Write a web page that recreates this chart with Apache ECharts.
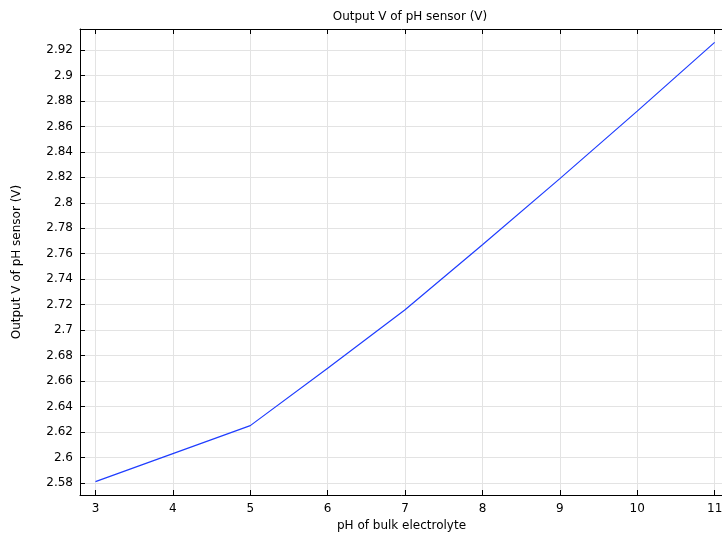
<!DOCTYPE html>
<html><head><meta charset="utf-8">
<script src="https://cdn.jsdelivr.net/npm/echarts@6/dist/echarts.min.js"></script>
<style>html,body{margin:0;padding:0;background:#fff}#c{width:722px;height:533px}</style>
</head><body><div id="c"></div>
<script>
var phValues = [3, 4, 5, 6, 7, 8, 9, 10, 11];
var voltage = [2.581, 2.603, 2.625, 2.670, 2.716, 2.767, 2.819, 2.872, 2.926];
var titleText = 'Output V of pH sensor (V)';
var xName = 'pH of bulk electrolyte';
var yName = 'Output V of pH sensor (V)';

var font = 'DejaVu Sans';
var chart = echarts.init(document.getElementById('c'));
var pts = phValues.map(function (x, i) { return [x, voltage[i]]; });
function isInt(v) { return Math.abs(v - Math.round(v)) < 1e-9; }
chart.setOption({
  animation: false,
  title: { text: titleText, left: 405, top: 6, textAlign: 'center',
    textStyle: { fontFamily: font, fontSize: 12, fontWeight: 'normal', color: '#000' } },
  grid: { left: 80, top: 29, width: 643, height: 466, containLabel: false, outerBoundsMode: 'none' },
  xAxis: [{
    type: 'value', min: 2.8, max: 11.108, splitNumber: 8, position: 'bottom',
    name: xName, nameLocation: 'middle', nameGap: 23,
    nameTextStyle: { fontFamily: font, fontSize: 12, color: '#000' },
    axisLine: { lineStyle: { color: '#000', width: 1 } },
    axisTick: { inside: true, length: 5, lineStyle: { color: '#000' } },
    axisLabel: { fontFamily: font, fontSize: 12, color: '#000', margin: 8, showMinLabel: false, showMaxLabel: false,
      formatter: function (v) { return (v >= 3 && v <= 11 && isInt(v)) ? String(Math.round(v)) : ''; } },
    splitLine: { show: true, showMinLine: false, showMaxLine: false, lineStyle: { color: '#e3e3e3', width: 1 } }
  }, {
    type: 'value', min: 2.8, max: 11.108, splitNumber: 8, position: 'top',
    axisLine: { lineStyle: { color: '#000', width: 1 } },
    axisTick: { inside: true, length: 5, lineStyle: { color: '#000' } },
    axisLabel: { show: false }, splitLine: { show: false }
  }],
  yAxis: [{
    type: 'value', min: 2.5705, max: 2.9365, splitNumber: 18,
    name: yName, nameLocation: 'middle', nameGap: 57, nameRotate: 90,
    nameTextStyle: { fontFamily: font, fontSize: 12, color: '#000' },
    axisLine: { show: true, lineStyle: { color: '#000', width: 1 } },
    axisTick: { inside: true, length: 5, lineStyle: { color: '#000' } },
    axisLabel: { fontFamily: font, fontSize: 12, color: '#000', margin: 7, showMinLabel: false, showMaxLabel: false,
      formatter: function (v) { return String(parseFloat(v.toFixed(2))); } },
    splitLine: { show: true, showMinLine: false, showMaxLine: false, lineStyle: { color: '#e3e3e3', width: 1 } }
  }],
  series: [{
    type: 'line', data: pts, showSymbol: false, symbol: 'none',
    lineStyle: { color: '#1f3dff', width: 1.2 }, smooth: false
  }]
});
</script></body></html>
